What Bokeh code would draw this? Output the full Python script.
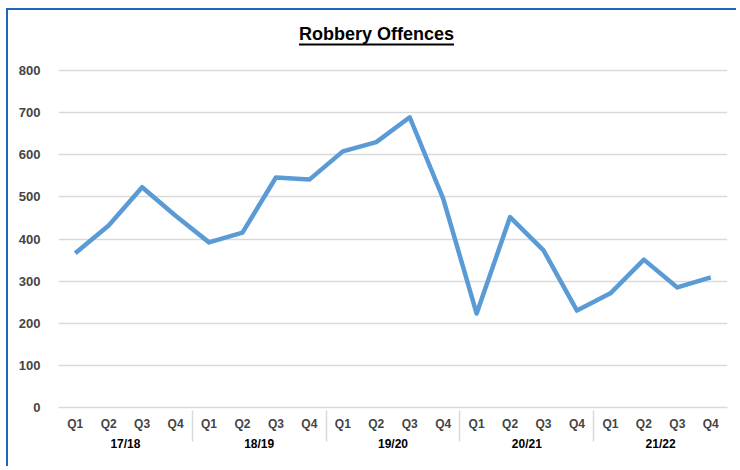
from bokeh.plotting import figure
from bokeh.models import FactorRange, Range1d, FixedTicker, BoxAnnotation, Label
from bokeh.embed import file_html
from bokeh.resources import INLINE

years = ["17/18", "18/19", "19/20", "20/21", "21/22"]
quarters = ["Q1", "Q2", "Q3", "Q4"]
offences = [366, 432, 523, 455, 392, 415, 546, 541, 608, 630,
            689, 496, 223, 452, 373, 230, 271, 351, 285, 309]
y_ticks = [0, 100, 200, 300, 400, 500, 600, 700, 800]
title_text = "Robbery Offences"

factors = [(y, q) for y in years for q in quarters]

FONT = "Liberation Sans"

# layout: frame 397px tall, top gridline (800) sits 60px below frame top
W, H = 730, 458
FRAME_H = 397
Y_TOP = 800 * FRAME_H / (FRAME_H - 60)
PX = Y_TOP / FRAME_H          # data units per pixel (vertical)
XPX = 20 / (719 - 50)         # synthetic units per pixel (horizontal)

p = figure(
    x_range=FactorRange(*factors, range_padding=0, group_padding=0, factor_padding=0),
    y_range=Range1d(0, Y_TOP),
    width=W, height=H,
    output_backend="svg", toolbar_location=None,
    min_border_left=50, min_border_right=11, min_border_top=0, min_border_bottom=H - FRAME_H,
)
p.styles = {"border-top": "2px solid #1F66C1", "border-left": "2px solid #1F66C1",
            "margin-left": "6px", "margin-top": "8px"}

p.line(x=factors, y=offences, line_color="#5B9BD5", line_width=4.5, line_join="round")

# title with underline, inside the top band of the frame
tx = (368 - 50) * XPX
p.add_layout(Label(x=tx, y=(FRAME_H - 23) * PX, text=title_text,
                   text_align="center", text_baseline="alphabetic",
                   text_font=FONT, text_font_style="bold", text_font_size="18px",
                   text_color="black"))
half = 77.5 * XPX
p.add_layout(BoxAnnotation(left=tx - half, right=tx + half,
                           top=(FRAME_H - 33) * PX, bottom=(FRAME_H - 35) * PX,
                           fill_color="black", fill_alpha=1, line_color=None))

p.outline_line_color = None
p.xgrid.grid_line_color = None
p.ygrid.grid_line_color = "#d9d9d9"
p.ygrid.grid_line_width = 1.5

p.yaxis.ticker = FixedTicker(ticks=y_ticks)
p.yaxis.axis_line_color = None
p.yaxis.major_tick_line_color = None
p.yaxis.minor_tick_line_color = None
p.yaxis.major_label_text_font = FONT
p.yaxis.major_label_text_font_style = "bold"
p.yaxis.major_label_text_font_size = "13px"
p.yaxis.major_label_standoff = 12

p.xaxis.axis_line_color = "#d9d9d9"
p.xaxis.axis_line_width = 1.5
p.xaxis.major_tick_line_color = None
p.xaxis.major_label_text_font = FONT
p.xaxis.major_label_text_font_style = "bold"
p.xaxis.major_label_text_font_size = "12px"
p.xaxis.major_label_text_line_height = 1.6
p.xaxis.major_label_standoff = 3
p.xaxis.group_text_font = FONT
p.xaxis.group_text_font_style = "bold"
p.xaxis.group_text_font_size = "12px"
p.xaxis.group_text_color = "black"
p.xaxis.separator_line_color = "#d9d9d9"
p.xaxis.separator_line_width = 1.5

open("out.html", "w").write(file_html(p, INLINE))
